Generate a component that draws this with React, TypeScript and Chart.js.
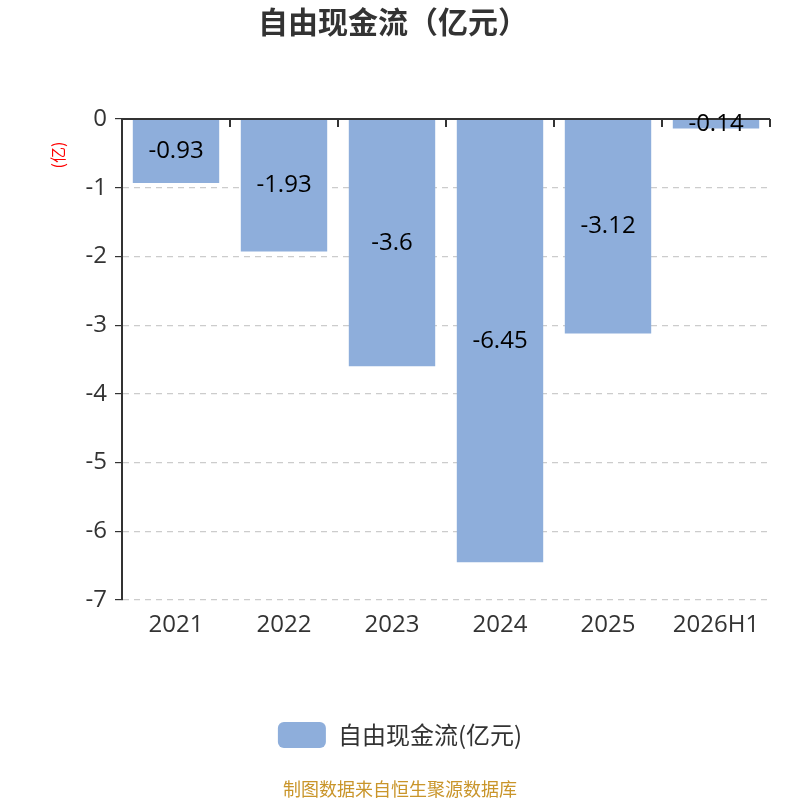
import React, { useEffect, useRef } from 'react';
import { Chart, registerables } from 'chart.js';

Chart.register(...registerables);

const categories: string[] = ['2021', '2022', '2023', '2024', '2025', '2026H1'];
const freeCashFlow: number[] = [-0.93, -1.93, -3.6, -6.45, -3.12, -0.14];
const seriesName = '自由现金流(亿元)';
const chartTitle = '自由现金流（亿元）';
const unitLabel = '(亿)';
const sourceNote = '制图数据来自恒生聚源数据库';

const FONT = '"Open Sans", "Noto Sans CJK SC", sans-serif';
const CJK = '"Noto Sans CJK SC", sans-serif';

// titles, unit label, footer, top axis line with its ticks, value labels
const decorPlugin = {
  id: 'decor',
  afterDatasetsDraw(chart: any) {
    const { ctx, chartArea } = chart;
    const yScale = chart.scales.y;
    ctx.save();

    // zero line along the top with downward ticks at category edges
    const y0 = yScale.getPixelForValue(0);
    ctx.strokeStyle = '#333';
    ctx.lineWidth = 2;
    ctx.beginPath();
    ctx.moveTo(chartArea.left, y0);
    ctx.lineTo(chartArea.right, y0);
    const n = categories.length;
    for (let i = 1; i <= n; i++) {
      const x = chartArea.left + (i * (chartArea.right - chartArea.left)) / n;
      ctx.moveTo(x, y0);
      ctx.lineTo(x, y0 + 8);
    }
    ctx.stroke();

    // value labels centred in each bar
    const meta = chart.getDatasetMeta(0);
    ctx.fillStyle = '#000';
    ctx.font = `24px ${FONT}`;
    ctx.textAlign = 'center';
    ctx.textBaseline = 'middle';
    meta.data.forEach((bar: any, i: number) => {
      ctx.fillText(String(freeCashFlow[i]), bar.x, (bar.y + bar.base) / 2);
    });

    // title
    ctx.fillStyle = '#333';
    ctx.font = `bold 30px ${CJK}`;
    ctx.fillText(chartTitle, 393, 22);

    // unit label
    ctx.save();
    ctx.translate(58, 155);
    ctx.rotate(-Math.PI / 2);
    ctx.fillStyle = '#ff0000';
    ctx.font = `16px ${CJK}`;
    ctx.fillText(unitLabel, 0, 0);
    ctx.restore();

    // footer
    ctx.fillStyle = '#c9952a';
    ctx.font = `18px ${CJK}`;
    ctx.fillText(sourceNote, 400, 789);

    ctx.restore();
  },
};

const App: React.FC = () => {
  const canvasRef = useRef<HTMLCanvasElement | null>(null);

  useEffect(() => {
    if (!canvasRef.current) return;
    const chart = new Chart(canvasRef.current, {
      type: 'bar',
      data: {
        labels: categories,
        datasets: [
          {
            label: seriesName,
            data: freeCashFlow,
            backgroundColor: '#8eaedb',
            borderWidth: 0,
            barPercentage: 0.8,
            categoryPercentage: 1,
          },
        ],
      },
      options: {
        responsive: false,
        animation: false,
        layout: { padding: { top: 119, right: 30, bottom: 42, left: 30 } },
        plugins: {
          title: { display: false },
          tooltip: { enabled: false },
          legend: {
            position: 'bottom',
            labels: {
              color: '#333',
              font: { size: 24, family: CJK },
              boxWidth: 48,
              boxHeight: 26,
              useBorderRadius: true,
              borderRadius: 6,
              padding: 10,
            },
          },
        },
        scales: {
          x: {
            position: 'bottom',
            grid: { display: false },
            border: { display: false },
            ticks: {
              color: '#333',
              font: { size: 24, family: FONT },
              padding: 3,
            },
            afterFit(scale: any) {
              scale.height = 112;
            },
          },
          y: {
            min: -7,
            max: 0,
            ticks: {
              stepSize: 1,
              color: '#333',
              font: { size: 24, family: FONT },
              padding: 8,
            },
            grid: {
              color: (c: any) => (c.tick && c.tick.value === 0 ? 'rgba(0,0,0,0)' : '#cccccc'),
              tickColor: '#333',
              tickLength: 7,
              lineWidth: 1.2,
            },
            border: { display: true, color: '#333', width: 2, dash: [6, 5] },
            afterFit(scale: any) {
              scale.width = 92;
            },
          },
        },
      },
      plugins: [decorPlugin],
    });
    return () => chart.destroy();
  }, []);

  return (
    <div style={{ position: 'fixed', left: 0, top: 0, width: 800, height: 800, background: '#fff' }}>
      <canvas ref={canvasRef} width={800} height={800} style={{ width: 800, height: 800 }} />
    </div>
  );
};

export default App;
